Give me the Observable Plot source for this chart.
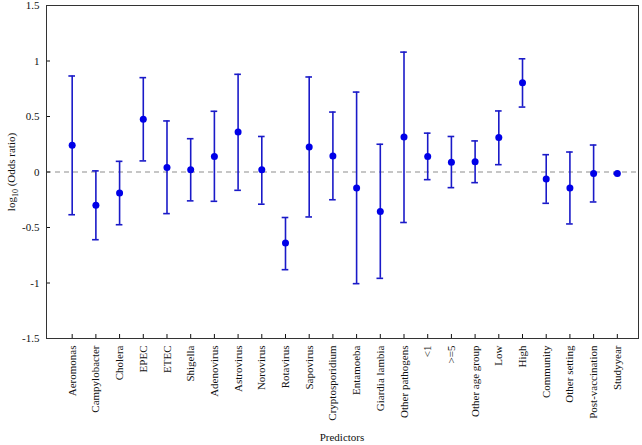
<!DOCTYPE html>
<html><head><meta charset="utf-8">
<script src="https://cdn.jsdelivr.net/npm/d3@7"></script>
<script src="https://cdn.jsdelivr.net/npm/@observablehq/plot@0.6"></script>
<style>body{margin:0;background:#fff} #chart{width:642px;height:445px}</style>
</head><body><div id="chart"></div>
<script>
const predictors = ["Aeromonas","Campylobacter","Cholera","EPEC","ETEC","Shigella","Adenovirus","Astrovirus","Norovirus","Rotavirus","Sapovirus","Cryptosporidium","Entamoeba","Giardia lambia","Other pathogens","<1",">=5","Other age group","Low","High","Community","Other setting","Post-vaccination","Studyyear"];
const estimate = [0.24,-0.30,-0.19,0.475,0.04,0.02,0.14,0.36,0.02,-0.64,0.225,0.145,-0.144,-0.355,0.315,0.14,0.088,0.093,0.31,0.805,-0.063,-0.144,-0.014,-0.014];
const lower = [-0.385,-0.61,-0.475,0.10,-0.375,-0.26,-0.264,-0.165,-0.29,-0.88,-0.405,-0.25,-1.006,-0.958,-0.455,-0.069,-0.141,-0.096,0.066,0.585,-0.282,-0.468,-0.27,-0.02];
const upper = [0.865,0.01,0.096,0.85,0.46,0.30,0.547,0.88,0.32,-0.41,0.856,0.54,0.72,0.25,1.08,0.35,0.32,0.28,0.55,1.02,0.156,0.18,0.243,-0.01];
const yTicks = [-1.5,-1,-0.5,0,0.5,1,1.5];

const data = predictors.map((p, i) => ({p, est: estimate[i], lo: lower[i], hi: upper[i]}));
const lineColor = "#1a1ac8";
const dotColor = "#0000e8";
const serif = "Liberation Serif";

const chart = Plot.plot({
  width: 642, height: 445,
  marginLeft: 46, marginRight: 4, marginTop: 5, marginBottom: 107,
  style: {fontFamily: serif, fontSize: "11px", color: "#111", background: "#fff"},
  x: {domain: predictors, range: [51.3, 637.2], padding: 0.72, round: false, label: null},
  y: {domain: [-1.5, 1.5], label: null},
  marks: [
    Plot.ruleY([0], {stroke: "#b4b4b4", strokeWidth: 1.5, strokeDasharray: "5,4"}),
    Plot.ruleX(data, {x: "p", y1: "lo", y2: "hi", stroke: lineColor, strokeWidth: 1.6}),
    Plot.tickY(data, {x: "p", y: "lo", stroke: lineColor, strokeWidth: 1.6}),
    Plot.tickY(data, {x: "p", y: "hi", stroke: lineColor, strokeWidth: 1.6}),
    Plot.dot(data, {x: "p", y: "est", r: 3.5, fill: dotColor}),
    Plot.axisX({tickRotate: -90, tickSize: -4, tickPadding: 11, label: null, fill: "#111"}),
    Plot.axisY({ticks: yTicks, tickSize: -4, tickPadding: 11, tickFormat: d => String(d), label: null, fill: "#111"}),
    Plot.frame({stroke: "#333"})
  ]
});

const svg = d3.select(chart);
const yt = svg.append("text")
  .attr("transform", "translate(15,172) rotate(-90)")
  .attr("text-anchor", "middle")
  .attr("font-family", serif)
  .attr("font-size", 11)
  .attr("fill", "#111");
yt.append("tspan").text("log");
yt.append("tspan").attr("font-size", 8).attr("dy", 3).text("10");
yt.append("tspan").attr("dy", -3).text(" (Odds ratio)");
svg.append("text")
  .attr("x", 342).attr("y", 441)
  .attr("text-anchor", "middle")
  .attr("font-family", serif)
  .attr("font-size", 11)
  .attr("fill", "#111")
  .text("Predictors");

document.getElementById("chart").appendChild(chart);
</script>
</body></html>
